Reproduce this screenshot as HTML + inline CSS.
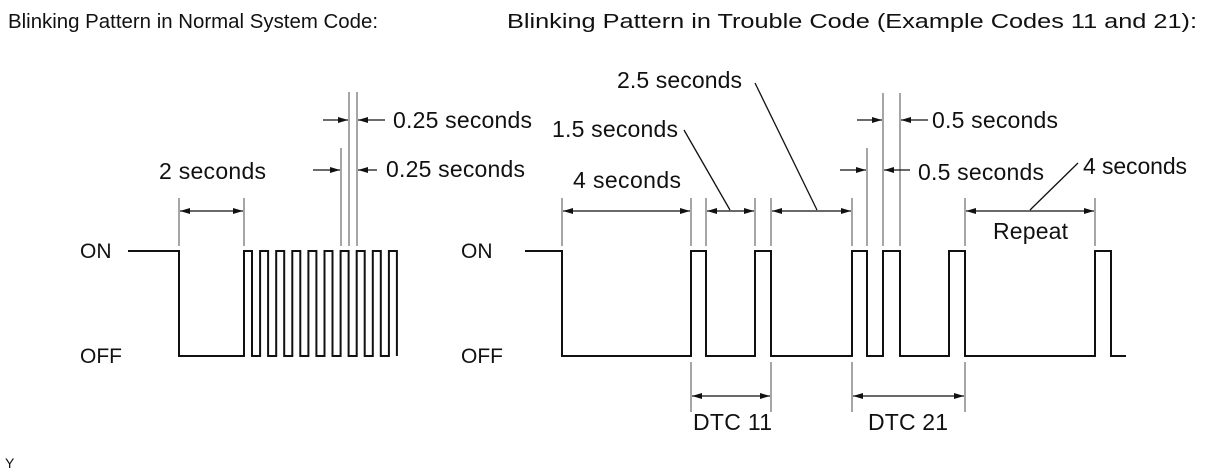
<!DOCTYPE html>
<html><head><meta charset="utf-8"><style>
html,body{margin:0;padding:0;background:#fff;}
svg{display:block;}
text{font-family:"Liberation Sans",Arial,sans-serif;fill:#111;}
</style></head><body>
<svg width="1208" height="472" viewBox="0 0 1208 472" xmlns="http://www.w3.org/2000/svg">
<defs>
<marker id="a" viewBox="0 0 10 6" refX="10" refY="3" markerWidth="10" markerHeight="6" markerUnits="userSpaceOnUse" orient="auto"><path d="M0,0 L10,3 L0,6 z" fill="#111"/></marker>
</defs>
<text x="8" y="28" font-size="20" textLength="370" lengthAdjust="spacingAndGlyphs">Blinking Pattern in Normal System Code:</text>
<text x="507" y="28" font-size="20" textLength="690" lengthAdjust="spacingAndGlyphs">Blinking Pattern in Trouble Code (Example Codes 11 and 21):</text>
<text x="5" y="468" font-size="14">Y</text>

<g font-size="21">
<text x="80" y="258">ON</text><text x="80" y="363">OFF</text>
<text x="461" y="258">ON</text><text x="461" y="363">OFF</text>
</g>

<g fill="none" stroke="#111" stroke-width="2">
<path d="M128 251 H179 V356 H244 V251 H252 V356 H260.1 V251 H268.1 V356 H276.2 V251 H284.2 V356 H292.3 V251 H300.3 V356 H308.4 V251 H316.4 V356 H324.5 V251 H332.5 V356 H340.6 V251 H348.6 V356 H356.7 V251 H364.7 V356 H372.8 V251 H380.8 V356 H388.9 V251 H396.9 V356"/>
<path d="M525 251 H562 V356 H691 V251 H706 V356 H755 V251 H771 V356 H852 V251 H867 V356 H883 V251 H900 V356 H949 V251 H965 V356 H1095 V251 H1111 V356 H1126"/>
</g>

<g stroke="#888" stroke-width="1.5">
<line x1="179" y1="198" x2="179" y2="246"/><line x1="244" y1="198" x2="244" y2="246"/>
<line x1="341" y1="148" x2="341" y2="246"/><line x1="349" y1="92" x2="349" y2="246"/><line x1="357" y1="92" x2="357" y2="246"/>
<line x1="562" y1="198" x2="562" y2="246"/><line x1="691" y1="198" x2="691" y2="246"/>
<line x1="706" y1="198" x2="706" y2="246"/><line x1="755" y1="198" x2="755" y2="246"/>
<line x1="771" y1="198" x2="771" y2="246"/><line x1="852" y1="198" x2="852" y2="246"/>
<line x1="867" y1="148" x2="867" y2="246"/><line x1="883" y1="93" x2="883" y2="246"/><line x1="900" y1="93" x2="900" y2="246"/>
<line x1="965" y1="198" x2="965" y2="246"/><line x1="1095" y1="198" x2="1095" y2="246"/>
<line x1="691" y1="362" x2="691" y2="412"/><line x1="771" y1="362" x2="771" y2="412"/>
<line x1="852" y1="362" x2="852" y2="412"/><line x1="965" y1="362" x2="965" y2="412"/>
</g>

<g stroke="#111" stroke-width="1.3" fill="none">
<line x1="212" y1="211" x2="180" y2="211" marker-end="url(#a)"/><line x1="212" y1="211" x2="243" y2="211" marker-end="url(#a)"/>
<line x1="323" y1="120" x2="348" y2="120" marker-end="url(#a)"/><line x1="385" y1="120" x2="358" y2="120" marker-end="url(#a)"/>
<line x1="313" y1="170" x2="340" y2="170" marker-end="url(#a)"/><line x1="377" y1="170" x2="358" y2="170" marker-end="url(#a)"/>
<line x1="626" y1="211" x2="563" y2="211" marker-end="url(#a)"/><line x1="626" y1="211" x2="690" y2="211" marker-end="url(#a)"/>
<line x1="730" y1="211" x2="707" y2="211" marker-end="url(#a)"/><line x1="730" y1="211" x2="754" y2="211" marker-end="url(#a)"/>
<line x1="817" y1="211" x2="772" y2="211" marker-end="url(#a)"/><line x1="817" y1="211" x2="851" y2="211" marker-end="url(#a)"/>
<line x1="857" y1="120" x2="882" y2="120" marker-end="url(#a)"/><line x1="928" y1="120" x2="901" y2="120" marker-end="url(#a)"/>
<line x1="840" y1="170" x2="866" y2="170" marker-end="url(#a)"/><line x1="910" y1="170" x2="884" y2="170" marker-end="url(#a)"/>
<line x1="1030" y1="211" x2="966" y2="211" marker-end="url(#a)"/><line x1="1030" y1="211" x2="1094" y2="211" marker-end="url(#a)"/>
<line x1="731" y1="396" x2="692" y2="396" marker-end="url(#a)"/><line x1="731" y1="396" x2="770" y2="396" marker-end="url(#a)"/>
<line x1="908" y1="396" x2="853" y2="396" marker-end="url(#a)"/><line x1="908" y1="396" x2="964" y2="396" marker-end="url(#a)"/>
<line x1="730" y1="210" x2="684" y2="130"/>
<line x1="817" y1="210" x2="755" y2="83"/>
<line x1="1030" y1="210" x2="1078" y2="163"/>
</g>

<g font-size="23" lengthAdjust="spacingAndGlyphs">
<text x="159" y="179" textLength="107">2 seconds</text>
<text x="393" y="128" textLength="139">0.25 seconds</text>
<text x="386" y="177" textLength="139">0.25 seconds</text>
<text x="573" y="188" textLength="108">4 seconds</text>
<text x="552" y="137" textLength="126">1.5 seconds</text>
<text x="617" y="88" textLength="125">2.5 seconds</text>
<text x="932" y="128" textLength="126">0.5 seconds</text>
<text x="918" y="180" textLength="126">0.5 seconds</text>
<text x="1083" y="174" textLength="104">4 seconds</text>
<text x="993" y="239" textLength="75">Repeat</text>
<text x="693" y="430" textLength="79">DTC 11</text>
<text x="868" y="430" textLength="80">DTC 21</text>
</g>
</svg>
</body></html>
